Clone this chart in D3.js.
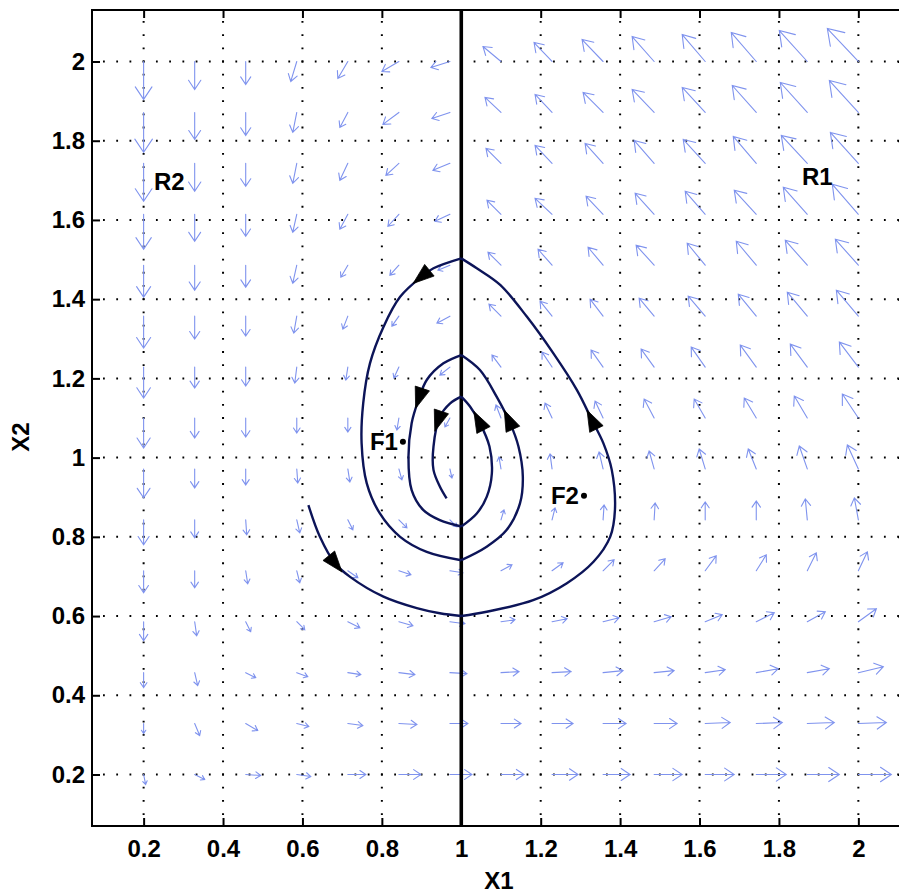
<!DOCTYPE html>
<html>
<head>
<meta charset="utf-8">
<script src="https://cdn.jsdelivr.net/npm/d3@7/dist/d3.min.js"></script>
<style>
  body { margin: 0; background: #fff; }
  svg { display: block; }
  text { font-family: "Liberation Sans", Arial, Helvetica, sans-serif; font-weight: bold; }
</style>
</head>
<body>
<svg id="chart" width="899" height="895"></svg>
<script>
// ---- axis ticks ----
const xTicks = [0.2, 0.4, 0.6, 0.8, 1, 1.2, 1.4, 1.6, 1.8, 2];
const yTicks = [0.2, 0.4, 0.6, 0.8, 1, 1.2, 1.4, 1.6, 1.8, 2];

// ---- direction field sample points ----
const gridX = [0.2, 0.3286, 0.4571, 0.5857, 0.7143, 0.8429, 0.9714, 1.1, 1.2286, 1.3571, 1.4857, 1.6143, 1.7429, 1.8714, 2.0];
const gridY = [2.0, 1.8714, 1.7429, 1.6143, 1.4857, 1.3571, 1.2286, 1.1, 0.9714, 0.8429, 0.7143, 0.5857, 0.4571, 0.3286, 0.2];

// field components, one row per gridY value, one column per gridX value
const fieldU = [
  [0, 0, 0, -6, -10, -17, -19, -18, -18, -21, -22, -23, -25, -28, -31],
  [0, 0, 0, -4, -8, -16, -18, -16, -17, -20, -22, -23, -24, -27, -29],
  [0, 0, 0, -4, -8, -13, -17, -15, -17, -18, -20, -22, -23, -26, -28],
  [0, 0, 0, -4, -8, -11, -15, -14, -17, -17, -19, -20, -22, -24, -26],
  [0, 0, 0, -4, -7, -9, -12, -13, -14, -15, -18, -18, -20, -22, -23],
  [0, 0, 0, -3, -5, -7, -13, -12, -12, -13, -15, -17, -18, -20, -22],
  [0, 0, 0, -2, -2, -5, -10, -9, -10, -12, -13, -14, -16, -17, -19],
  [0, 0, 0, 0, 0, -2, -5, -5, -7, -8, -10, -11, -12, -13, -16],
  [0, 0, 0, 1, 2, 3, 2, -2, -2, -4, -5, -6, -8, -8, -11],
  [0, 0, 1, 3, 5, 8, 7, 3, 3, 1, 1, 0, 0, -2, -4],
  [0, 0, 2, 3, 10, 12, 13, 11, 11, 11, 11, 11, 10, 9, 9],
  [0, 2, 5, 8, 12, 14, 15, 14, 15, 16, 17, 17, 18, 18, 18],
  [0, 3, 10, 11, 13, 16, 17, 18, 19, 20, 20, 20, 22, 22, 25],
  [0, 5, 12, 12, 15, 18, 18, 20, 21, 23, 23, 25, 26, 27, 28],
  [2, 10, 15, 14, 18, 22, 22, 23, 26, 27, 28, 29, 30, 32, 33]
];
const fieldV = [
  [-38, -28, -23, -20, -17, -10, -6, 15, 19, 22, 25, 27, 29, 31, 33],
  [-40, -27, -23, -20, -15, -12, -6, 15, 18, 20, 23, 25, 27, 30, 32],
  [-38, -28, -23, -20, -17, -12, -7, 15, 18, 20, 23, 24, 27, 28, 31],
  [-35, -27, -22, -18, -15, -12, -7, 14, 16, 18, 21, 23, 24, 27, 30],
  [-32, -25, -22, -18, -12, -10, -5, 13, 16, 18, 20, 22, 24, 25, 26],
  [-32, -23, -20, -17, -13, -10, -7, 12, 15, 17, 18, 20, 22, 24, 26],
  [-31, -21, -19, -16, -13, -11, -8, 12, 15, 17, 18, 20, 22, 23, 25],
  [-30, -20, -19, -15, -14, -12, -9, 13, 15, 17, 19, 19, 20, 22, 24],
  [-29, -19, -16, -14, -13, -11, -9, 12, 15, 17, 18, 20, 20, 23, 24],
  [-25, -18, -15, -13, -10, -8, -7, 10, 12, 15, 17, 18, 19, 21, 22],
  [-22, -17, -13, -12, -7, -4, -2, 6, 8, 11, 12, 15, 16, 18, 19],
  [-19, -14, -10, -8, -6, -4, -2, 2, 3, 4, 5, 7, 9, 10, 13],
  [-15, -13, -5, -4, -2, -2, -1, 1, 1, 2, 2, 3, 4, 4, 6],
  [-10, -12, -7, -3, -2, -1, 0, 0, 0, 0, 0, 1, 1, 1, 1],
  [-10, -5, -1, -2, 0, 0, 0, 0, 0, 0, 0, 0, 0, 0, 0]
];

// ---- trajectory (X1, X2), in the order of motion; it kinks on the switching line X1 = 1 ----
const trajectory = [
  [0.615, 0.880], [0.644, 0.800], [0.682, 0.733], [0.720, 0.699], [0.804, 0.649], [0.888, 0.620], [0.946, 0.607], [1.0, 0.600],
  [1.064, 0.611], [1.181, 0.640], [1.266, 0.683], [1.333, 0.737], [1.375, 0.800], [1.387, 0.868], [1.379, 0.969],
  [1.358, 1.036], [1.329, 1.095], [1.291, 1.171], [1.232, 1.263], [1.165, 1.356], [1.098, 1.436], [1.039, 1.478], [1.0, 1.503],
  [0.930, 1.478], [0.900, 1.457], [0.846, 1.406], [0.804, 1.330], [0.770, 1.238], [0.753, 1.137], [0.749, 1.036],
  [0.762, 0.935], [0.795, 0.859], [0.846, 0.800], [0.913, 0.762], [1.0, 0.741],
  [1.064, 0.775], [1.114, 0.817], [1.148, 0.885], [1.155, 0.952], [1.144, 1.028], [1.123, 1.087], [1.089, 1.154], [1.047, 1.221], [1.0, 1.259],
  [0.955, 1.238], [0.913, 1.196], [0.892, 1.145], [0.875, 1.087], [0.867, 1.002], [0.875, 0.918], [0.904, 0.868], [0.946, 0.842], [1.0, 0.826],
  [1.039, 0.859], [1.064, 0.901], [1.077, 0.960], [1.071, 1.028], [1.047, 1.087], [1.022, 1.129], [1.0, 1.154],
  [0.972, 1.137], [0.946, 1.103], [0.930, 1.028], [0.930, 0.969], [0.946, 0.927], [0.963, 0.897]
];
// points on the trajectory that carry a direction arrowhead
const trajectoryArrows = [
  [0.682, 0.733], [1.331, 1.095], [0.900, 1.457], [1.120, 1.095], [0.896, 1.150], [1.043, 1.091], [0.946, 1.091]
];

// equilibrium points
const equilibria = [
  { name: "F1", x1: 0.853, x2: 1.040 },
  { name: "F2", x1: 1.309, x2: 0.904 }
];
const switchX = 1;

// ---- layout ----
const pL = 92, pR = 906, pT = 10, pB = 826;
const x = d3.scaleLinear().domain([0.07, 2.12]).range([pL, pR]);
const y = d3.scaleLinear().domain([0.07, 2.13]).range([pB, pT]);
const svg = d3.select("#chart");
const fontSize = 24;

svg.append("rect").attr("width", 899).attr("height", 895).attr("fill", "#fff");

svg.append("defs").append("clipPath").attr("id", "plotClip")
  .append("rect").attr("x", pL).attr("y", pT).attr("width", pR - pL).attr("height", pB - pT);

const plot = svg.append("g").attr("clip-path", "url(#plotClip)");

// dotted grid, dots sitting on every tick intersection
function dotted(sel, lenStart, tickPos, period) {
  const off = period - ((tickPos - lenStart - 0.9) % period + period) % period;
  sel.attr("stroke", "#000").attr("stroke-width", 2)
    .attr("stroke-dasharray", `1.8,${(period - 1.8).toFixed(3)}`)
    .attr("stroke-dashoffset", off);
}
const perX = (x(0.4) - x(0.2)) / 6;
const perY = (y(0.2) - y(0.4)) / 6;
xTicks.forEach(t => {
  plot.append("line").attr("x1", x(t)).attr("x2", x(t)).attr("y1", pT).attr("y2", pB)
    .call(s => dotted(s, pT, y(2), perY));
});
yTicks.forEach(t => {
  plot.append("line").attr("y1", y(t)).attr("y2", y(t)).attr("x1", pL).attr("x2", pR)
    .call(s => dotted(s, pL, x(0.2), perX));
});

// direction field arrows
const quiverScale = 1 / 397;
const quiver = plot.append("g").attr("stroke", "#7f93ee").attr("stroke-width", 1.1).attr("fill", "none")
  .attr("stroke-linecap", "round");
gridY.forEach((gy, r) => {
  gridX.forEach((gx, c) => {
    const u = fieldU[r][c], v = fieldV[r][c];
    const x0 = x(gx), y0 = y(gy);
    const x1 = x(gx + u * quiverScale), y1 = y(gy + v * quiverScale);
    const dx = x1 - x0, dy = y1 - y0;
    const L = Math.hypot(dx, dy);
    if (L < 0.5) return;
    const ux = dx / L, uy = dy / L;
    const hl = 0.33 * L, hw = 0.22 * L;
    const bx = x1 - ux * hl, by = y1 - uy * hl;
    quiver.append("path").attr("d",
      `M${x0},${y0}L${x1},${y1}` +
      `M${bx - uy * hw},${by + ux * hw}L${x1},${y1}L${bx + uy * hw},${by - ux * hw}`);
  });
});

// switching line
plot.append("line").attr("x1", x(switchX)).attr("x2", x(switchX)).attr("y1", pT).attr("y2", pB)
  .attr("stroke", "#000").attr("stroke-width", 3.6);

// trajectory arcs between crossings of the switching line
const arcs = [];
let cur = [];
trajectory.forEach((p, i) => {
  cur.push(p);
  if (p[0] === switchX && i > 0) { arcs.push(cur); cur = [p]; }
});
if (cur.length > 1) arcs.push(cur);

const line = d3.line().x(d => x(d[0])).y(d => y(d[1])).curve(d3.curveCatmullRom.alpha(0.5));
const trajColor = "#0c1458";
const trajG = plot.append("g");
const paths = arcs.map(a => trajG.append("path").attr("d", line(a))
  .attr("fill", "none").attr("stroke", trajColor).attr("stroke-width", 2.4).node());

// sample the drawn arcs to orient the arrowheads
const samples = [];
paths.forEach(p => {
  const L = p.getTotalLength();
  for (let s = 0; s <= L; s += 0.5) {
    const a = p.getPointAtLength(s), b = p.getPointAtLength(Math.min(L, s + 1.5)), c = p.getPointAtLength(Math.max(0, s - 1.5));
    samples.push({ x: a.x, y: a.y, tx: b.x - c.x, ty: b.y - c.y });
  }
});
trajectoryArrows.forEach(pt => {
  const X = x(pt[0]), Y = y(pt[1]);
  let best = null, bd = Infinity;
  samples.forEach(s => { const d = (s.x - X) ** 2 + (s.y - Y) ** 2; if (d < bd) { bd = d; best = s; } });
  const n = Math.hypot(best.tx, best.ty);
  const ux = best.tx / n, uy = best.ty / n;
  const tipX = best.x + ux * 11, tipY = best.y + uy * 11;
  const bx = best.x - ux * 10, by = best.y - uy * 10;
  const hw = 7.5;
  trajG.append("path")
    .attr("d", `M${tipX},${tipY}L${bx - uy * hw},${by + ux * hw}L${bx + uy * hw},${by - ux * hw}Z`)
    .attr("fill", "#000").attr("stroke", "#000").attr("stroke-width", 0.8);
});

// equilibrium markers
equilibria.forEach(e => {
  plot.append("circle").attr("cx", x(e.x1)).attr("cy", y(e.x2)).attr("r", 3).attr("fill", "#000");
  plot.append("text").attr("x", x(e.x1) - 5).attr("y", y(e.x2) + 8.5)
    .attr("text-anchor", "end").attr("font-size", fontSize).text(e.name);
});

// region labels
plot.append("text").attr("x", x(0.226)).attr("y", y(1.676)).attr("font-size", fontSize).text("R2");
plot.append("text").attr("x", x(1.858)).attr("y", y(1.688)).attr("font-size", fontSize).text("R1");

// axes
const fmt = d => String(d);
function styleAxis(g) {
  g.select(".domain").remove();
  g.selectAll(".tick line").attr("stroke", "#000").attr("stroke-width", 2);
  g.selectAll(".tick text").attr("fill", "#000").attr("font-size", fontSize)
    .attr("font-family", "'Liberation Sans', Arial, sans-serif").attr("font-weight", "bold");
}
svg.append("g").attr("transform", `translate(0,${pB})`)
  .call(d3.axisBottom(x).tickValues(xTicks).tickFormat(fmt).tickSizeInner(-8).tickSizeOuter(0).tickPadding(14))
  .call(styleAxis);
svg.append("g").attr("transform", `translate(0,${pT})`)
  .call(d3.axisTop(x).tickValues(xTicks).tickFormat("").tickSizeInner(-8).tickSizeOuter(0))
  .call(styleAxis);
svg.append("g").attr("transform", `translate(${pL},0)`)
  .call(d3.axisLeft(y).tickValues(yTicks).tickFormat(fmt).tickSizeInner(-8).tickSizeOuter(0).tickPadding(7))
  .call(styleAxis);
svg.append("g").attr("transform", `translate(${pR},0)`)
  .call(d3.axisRight(y).tickValues(yTicks).tickFormat("").tickSizeInner(-8).tickSizeOuter(0))
  .call(styleAxis);

svg.append("rect").attr("x", pL).attr("y", pT).attr("width", pR - pL).attr("height", pB - pT)
  .attr("fill", "none").attr("stroke", "#000").attr("stroke-width", 2);

// axis titles
svg.append("text").attr("x", (pL + pR) / 2).attr("y", 889).attr("text-anchor", "middle")
  .attr("font-size", fontSize).text("X1");
svg.append("text").attr("transform", "translate(29,437) rotate(-90)").attr("text-anchor", "middle")
  .attr("font-size", fontSize).text("X2");
</script>
</body>
</html>
